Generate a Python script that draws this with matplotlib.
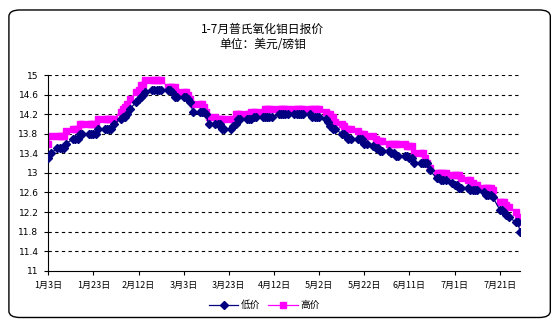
import matplotlib
matplotlib.use("Agg")
import matplotlib.pyplot as plt
from matplotlib.patches import FancyBboxPatch
import pandas as pd

plt.rcParams['font.family'] = ['Noto Sans CJK SC', 'DejaVu Sans']

# trading days 2008-01-03 .. 2008-07-30
days = pd.bdate_range('2008-01-03', '2008-07-30')

low_price = [
    # Jan
    13.3, 13.4, 13.5, 13.5, 13.5, 13.5, 13.6, 13.7, 13.7, 13.7, 13.8,
    13.8, 13.8, 13.8, 13.8, 13.8, 13.9, 13.9, 13.9, 13.9, 13.9,
    # Feb
    14.0, 14.1, 14.15, 14.15, 14.2, 14.3, 14.45, 14.5, 14.55, 14.6, 14.65,
    14.7, 14.7, 14.7, 14.7, 14.7, 14.7, 14.7, 14.65, 14.55, 14.55,
    # Mar
    14.55, 14.55, 14.5, 14.45, 14.25, 14.25, 14.25, 14.25, 14.2, 14.0, 14.0,
    14.0, 14.0, 13.9, 13.9, 13.9, 13.95, 14.0, 14.1, 14.1, 14.1,
    # Apr
    14.1, 14.1, 14.15, 14.15, 14.15, 14.15, 14.15, 14.15, 14.15, 14.2, 14.2,
    14.2, 14.2, 14.2, 14.2, 14.2, 14.2, 14.2, 14.2, 14.2, 14.15, 14.15,
    # May
    14.15, 14.15, 14.1, 14.05, 13.95, 13.9, 13.9, 13.8, 13.8, 13.75, 13.7,
    13.7, 13.7, 13.7, 13.7, 13.6, 13.6, 13.55, 13.5, 13.5, 13.45, 13.45,
    # Jun
    13.45, 13.4, 13.4, 13.35, 13.35, 13.35, 13.35, 13.3, 13.3, 13.2, 13.2,
    13.2, 13.2, 13.2, 13.05, 12.9, 12.9, 12.85, 12.85, 12.85, 12.8,
    # Jul
    12.75, 12.75, 12.7, 12.7, 12.7, 12.65, 12.65, 12.65, 12.65, 12.6, 12.55,
    12.55, 12.55, 12.5, 12.25, 12.25, 12.2, 12.15, 12.1, 12.0, 12.0, 11.8,
]

high_price = [
    # Jan
    13.6, 13.75, 13.75, 13.75, 13.75, 13.75, 13.85, 13.9, 13.9, 13.9, 14.0,
    14.0, 14.0, 14.0, 14.0, 14.0, 14.1, 14.1, 14.1, 14.1, 14.1,
    # Feb
    14.1, 14.25, 14.3, 14.35, 14.4, 14.5, 14.65, 14.7, 14.8, 14.8, 14.9,
    14.9, 14.9, 14.9, 14.9, 14.9, 14.75, 14.75, 14.75, 14.75, 14.65,
    # Mar
    14.65, 14.65, 14.6, 14.5, 14.4, 14.4, 14.4, 14.35, 14.25, 14.15, 14.15,
    14.1, 14.1, 14.1, 14.1, 14.1, 14.1, 14.2, 14.2, 14.2, 14.2,
    # Apr
    14.2, 14.25, 14.25, 14.25, 14.25, 14.3, 14.3, 14.3, 14.3, 14.3, 14.3,
    14.3, 14.3, 14.3, 14.3, 14.3, 14.3, 14.3, 14.3, 14.3, 14.3, 14.3,
    # May
    14.3, 14.3, 14.25, 14.2, 14.2, 14.15, 14.05, 14.0, 13.95, 13.9, 13.9,
    13.9, 13.85, 13.8, 13.8, 13.8, 13.75, 13.75, 13.7, 13.65, 13.65, 13.65,
    # Jun
    13.6, 13.6, 13.6, 13.6, 13.6, 13.6, 13.55, 13.55, 13.55, 13.4, 13.4,
    13.4, 13.3, 13.2, 13.1, 13.0, 13.0, 13.0, 13.0, 13.0, 12.95,
    # Jul
    12.95, 12.95, 12.95, 12.9, 12.85, 12.85, 12.8, 12.75, 12.75, 12.7, 12.7,
    12.7, 12.7, 12.65, 12.4, 12.4, 12.4, 12.35, 12.3, 12.2, 12.1, 12.0,
]

tick_dates = pd.date_range('2008-01-03', periods=11, freq='20D')
tick_labels = ['1月3日', '1月23日', '2月12日', '3月3日', '3月23日', '4月12日',
               '5月2日', '5月22日', '6月11日', '7月1日', '7月21日']
y_ticks = [11, 11.4, 11.8, 12.2, 12.6, 13, 13.4, 13.8, 14.2, 14.6, 15]
y_labels = ['11', '11.4', '11.8', '12.2', '12.6', '13', '13.4',
            '13.8', '14.2', '14.6', '15']

fig = plt.figure(figsize=(5.57, 3.22), dpi=100)
ax = fig.add_axes([0.0867, 0.159, 0.8469, 0.608])

ax.plot(days, low_price, color='#000080', marker='D', markersize=4,
        linewidth=0.9, label='低价', zorder=3)
ax.plot(days, high_price, color='#FF00FF', marker='s', markersize=4.5,
        linewidth=0.9, label='高价', zorder=2)

ax.set_xlim(pd.Timestamp('2008-01-03'), pd.Timestamp('2008-07-30'))
ax.set_ylim(11, 15)
ax.set_xticks(tick_dates)
ax.set_xticklabels(tick_labels, fontsize=6.5)
ax.set_yticks(y_ticks)
ax.set_yticklabels(y_labels, fontsize=6.5, family='DejaVu Sans')
ax.tick_params(axis='both', length=3, width=0.8, pad=4)
for yv in y_ticks[1:]:
    ax.axhline(yv, color='black', linestyle=(0, (3, 3)), linewidth=0.8,
               zorder=1)
ax.spines['top'].set_visible(False)
ax.spines['right'].set_visible(False)

fig.text(0.472, 0.91, '1-7月普氏氧化钼日报价', ha='center', va='center',
         fontsize=8.5, fontweight='medium')
fig.text(0.472, 0.862, '单位：美元/磅钼', ha='center', va='center',
         fontsize=8.5, fontweight='medium')

fig.legend(loc='center', bbox_to_anchor=(0.475, 0.052), ncol=2,
           frameon=False, fontsize=7, handlelength=3, columnspacing=0.8,
           handletextpad=0.3)

border = FancyBboxPatch((0.016, 0.014), 0.972, 0.955,
                        boxstyle='round,pad=0,rounding_size=0.02',
                        transform=fig.transFigure, fill=False,
                        edgecolor='black', linewidth=1)
fig.patches.append(border)

fig.savefig('out.png', dpi=100)
